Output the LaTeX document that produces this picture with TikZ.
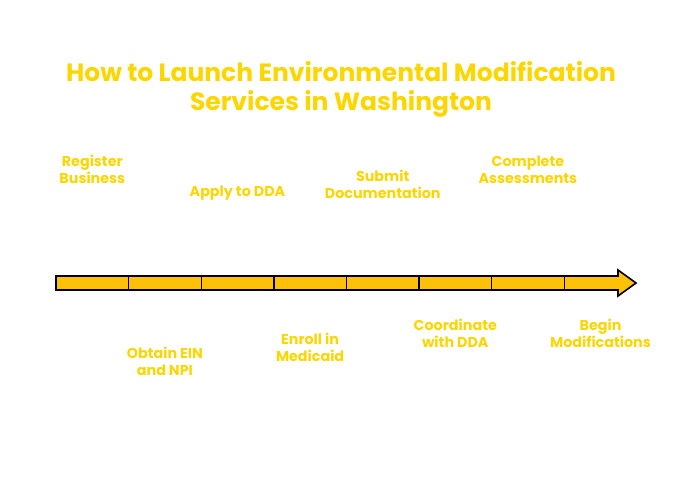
\documentclass[tikz,border=0pt]{standalone}
\usepackage{fontspec}
\setmainfont{Poppins}
\usetikzlibrary{positioning}
\definecolor{labelyellow}{RGB}{252,214,0}
\definecolor{baryellow}{RGB}{255,193,7}

\begin{document}
\begin{tikzpicture}[
            x=1pt, y=-1pt,
            font=\bfseries,
            title/.style={text=labelyellow, align=center, font=\bfseries\fontsize{25}{29}\selectfont},
            steplabel/.style={text=labelyellow, align=center, inner sep=0pt, font=\bfseries\fontsize{14.3}{17}\selectfont},
            barline/.style={draw=black, line width=1.6pt, fill=baryellow, line join=miter}
        ]
        \useasboundingbox (0,0) rectangle (690,478);

        % Titel
        \node (title) [title] at (341,89.5) {How to Launch Environmental Modification\\Services in Washington};

        % Zeitstrahl
        \draw [barline] (56,276) -- (618,276) -- (618,270) -- (636,283) -- (618,296) -- (618,290) -- (56,290) -- cycle;
        \foreach \i in {1,...,7}
            \draw [black, line width=1.4pt] (56+72.6*\i,276) -- (56+72.6*\i,290);
        \foreach \i in {1,...,8}
            \coordinate (s\i) at (56+72.6*\i-36.3,283);

        % Schritte oben
        \node (register) [steplabel, yshift=113.5pt] at (s1) {Register\\Business};
        \node (apply) [steplabel, yshift=90pt] at (s3) {Apply to DDA};
        \node (submit) [steplabel, yshift=99pt] at (s5) {Submit\\Documentation};
        \node (assess) [steplabel, yshift=113.5pt] at (s7) {Complete\\Assessments};

        % Schritte unten
        \node (ein) [steplabel, yshift=-78.5pt] at (s2) {Obtain EIN\\and NPI};
        \node (enroll) [steplabel, yshift=-64pt] at (s4) {Enroll in\\Medicaid};
        \node (coord) [steplabel, yshift=-50pt] at (s6) {Coordinate\\with DDA};
        \node (begin) [steplabel, yshift=-50pt] at (s8) {Begin\\Modifications};

    \end{tikzpicture}
\end{document}
